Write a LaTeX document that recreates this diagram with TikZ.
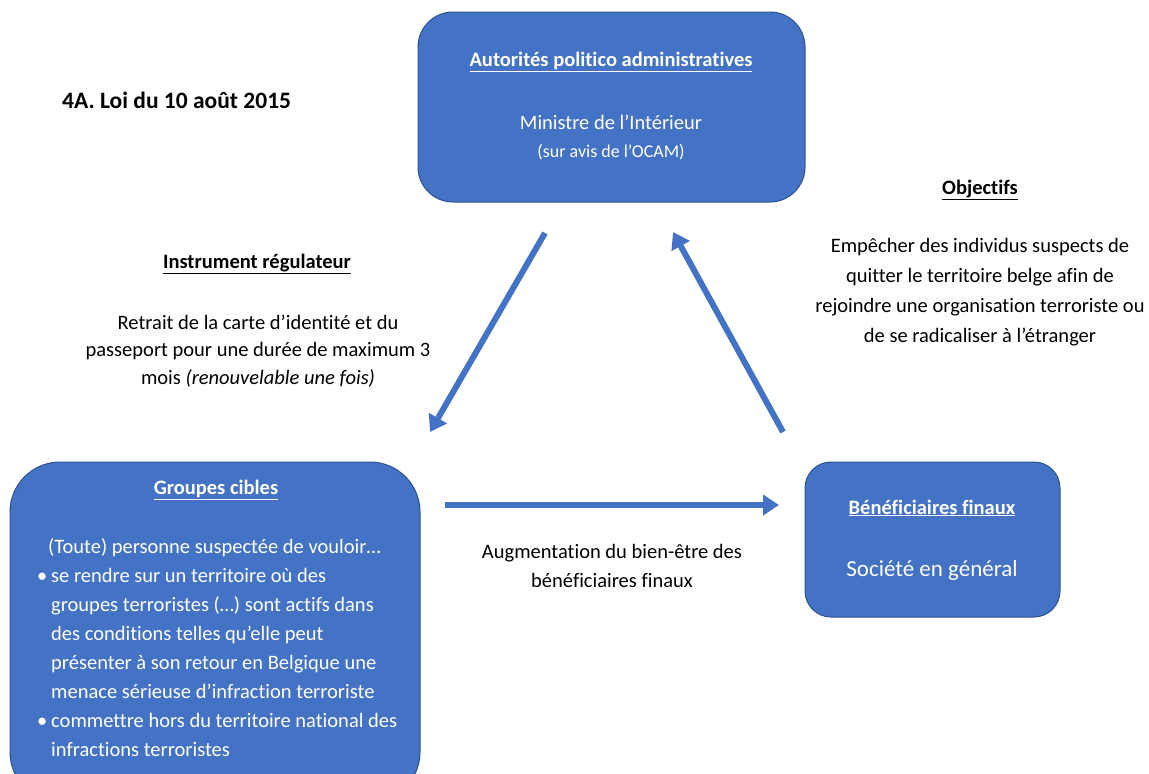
\documentclass[tikz,border=0pt]{standalone}
\usepackage{fontspec}
\setmainfont{Carlito}[Ligatures=NoCommon]
\usetikzlibrary{arrows.meta}
\definecolor{boxblue}{HTML}{4472C4}
\definecolor{boxedge}{HTML}{2F528F}
\newcommand{\bul}{\makebox[14pt][l]{•}}
\begin{document}
\begin{tikzpicture}[x=1pt,y=-1pt]
        \tikzstyle{box_style} = [draw=boxedge,line width=1pt,fill=boxblue,inner sep=0pt]
        \tikzstyle{arrow_style} = [draw=boxblue,line width=6pt,-{Triangle[length=16pt,width=20pt]}]
        \tikzstyle{label_style} = [align=center,font=\fontsize{20.5}{28.5}\selectfont]
        \tikzstyle{head_style} = [font=\bfseries\fontsize{20.5}{24}\selectfont]
        \useasboundingbox (0,0) rectangle (1149,774);
        \node[box_style,rounded corners=35pt,minimum width=387pt,minimum height=190pt] (v1) at (611.5,107) {};
        \node[box_style,rounded corners=50pt,minimum width=410pt,minimum height=340pt] (v2) at (215,632) {};
        \node[box_style,rounded corners=26pt,minimum width=255pt,minimum height=155pt] (v3) at (932.5,539.5) {};
        \node[font=\bfseries\fontsize{23.5}{28}\selectfont,anchor=west,inner sep=0pt] (title) at (62,100) {4A. Loi du 10 août 2015};
        \node[head_style,text=white] (h1) at (611,62) {\underline{Autorités politico administratives}};
        \node[text=white,font=\fontsize{20.5}{24}\selectfont] (t1) at (611,122) {Ministre de l’Intérieur};
        \node[text=white,font=\fontsize{18}{22}\selectfont] (t2) at (611,152) {(sur avis de l’OCAM)};
        \node[head_style,text=white] (h2) at (216,490) {\underline{Groupes cibles}};
        \node[text=white,anchor=north west,align=left,inner sep=0pt,font=\fontsize{20.5}{29}\selectfont] (t3) at (37,538) {%
          \hspace*{11pt}(Toute) personne suspectée de vouloir…\\
          \bul se rendre sur un territoire où des\\
          \hspace*{14pt}groupes terroristes (…) sont actifs dans\\
          \hspace*{14pt}des conditions telles qu’elle peut\\
          \hspace*{14pt}présenter à son retour en Belgique une\\
          \hspace*{14pt}menace sérieuse d’infraction terroriste\\
          \bul commettre hors du territoire national des\\
          \hspace*{14pt}infractions terroristes};
        \node[head_style,text=white] (h3) at (932,508) {\underline{Bénéficiaires finaux}};
        \node[text=white,font=\fontsize{23}{27}\selectfont] (t4) at (932,570) {Société en général};
        \node[head_style] (h4) at (257,264) {\underline{Instrument régulateur}};
        \node[label_style,font=\fontsize{20.5}{27.5}\selectfont] (t5) at (258,351) {Retrait de la carte d’identité et du\\passeport pour une durée de maximum 3\\mois \textit{(renouvelable une fois)}};
        \node[head_style] (h5) at (980,190) {\underline{Objectifs}};
        \node[label_style,font=\fontsize{20.5}{30}\selectfont] (t6) at (980,292) {Empêcher des individus suspects de\\quitter le territoire belge afin de\\rejoindre une organisation terroriste ou\\de se radicaliser à l’étranger};
        \node[label_style] (t7) at (612,566) {Augmentation du bien-être des\\bénéficiaires finaux};
        \coordinate (a1) at (545,233);
        \coordinate (b1) at (430,432);
        \coordinate (a2) at (783,432);
        \coordinate (b2) at (673,232);
        \coordinate (a3) at (445,505);
        \coordinate (b3) at (779,505);
        \draw[arrow_style] (a1) -- (b1);
        \draw[arrow_style] (a2) -- (b2);
        \draw[arrow_style] (a3) -- (b3);
      \end{tikzpicture}
\end{document}
